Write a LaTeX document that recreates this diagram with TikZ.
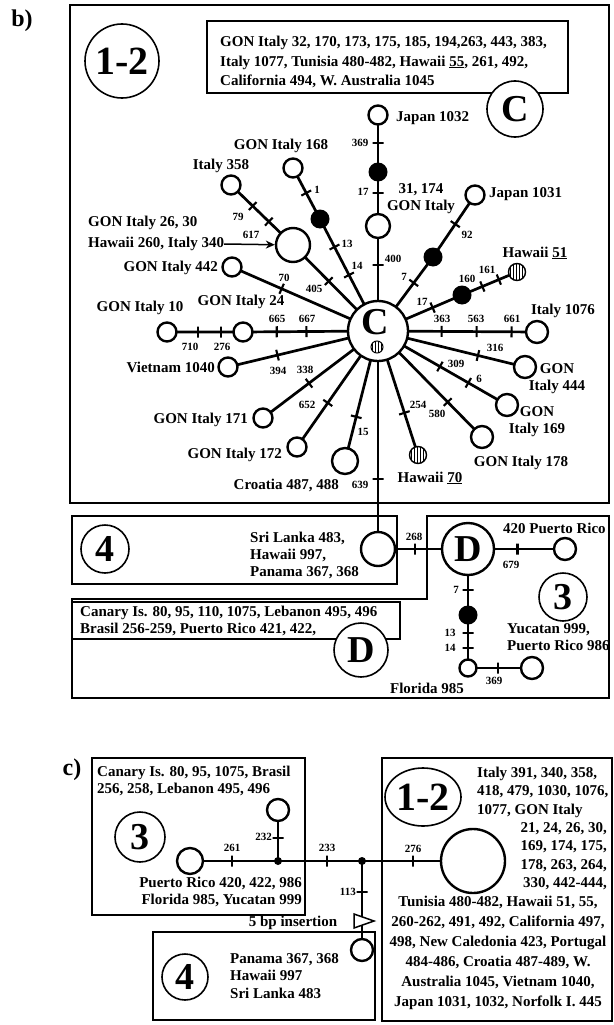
\documentclass[tikz,border=0pt]{standalone}
\usepackage{fontspec}
\setmainfont{Liberation Serif}
\usetikzlibrary{arrows.meta,patterns,shapes.geometric,backgrounds}

\begin{document}
\begin{tikzpicture}[x=1pt,y=-1pt,
  lab/.style={font=\bfseries\fontsize{15}{17}\selectfont,inner sep=0pt},
  num/.style={font=\bfseries\fontsize{11}{12}\selectfont,inner sep=0pt},
  grp/.style={circle,draw,line width=1.6pt,fill=white,inner sep=0pt,font=\bfseries\fontsize{38}{38}\selectfont},
  hap/.style={circle,draw,line width=2.4pt,fill=white,inner sep=0pt,minimum size=#1},
  hap/.default=19pt,
  blk/.style={circle,fill=black,inner sep=0pt,minimum size=19pt},
  hat/.style={circle,draw,line width=1.4pt,preaction={fill=white},pattern=vertical lines,inner sep=0pt,minimum size=17pt},
  jn/.style={circle,fill=black,inner sep=0pt,minimum size=8pt},
  tk/.style={draw,line width=2.1pt,inner sep=0pt,minimum width=0pt,minimum height=11pt,sloped},
  br/.style={line width=2.7pt},
  frame/.style={line width=1.3pt}]
\useasboundingbox (0,0) rectangle (613,1025);

% b)
\node[font=\bfseries\fontsize{24}{24}\selectfont] (tb) at (22,21) {b)};
\draw[frame] (70,5) rectangle (609,503);
\draw[frame] (207,21) rectangle (568,93);
\draw[frame] (72,516) rectangle (397,584);
\draw[frame] (72,599) -- (427,599) -- (427,516) -- (609,516) -- (609,698) -- (72,698) -- cycle;
\draw[frame] (72,602) rectangle (400,639);
\node[grp,minimum size=74pt,font=\bfseries\fontsize{40}{40}\selectfont] (g12) at (122,61) {1-2};
\node[lab,anchor=west,align=left,font=\bfseries\fontsize{15}{19.5}\selectfont] (tC) at (220,62) {GON Italy 32, 170, 173, 175, 185, 194,263, 443, 383,\\Italy 1077, Tunisia 480-482, Hawaii \underline{55}, 261, 492,\\California 494, W. Australia 1045};
\node[grp,minimum size=56pt] (gC) at (515,109) {C};

\node[hap=60pt] (C) at (378,331) {};
\node[font=\bfseries\fontsize{38}{38}\selectfont,inner sep=0pt] (tCc) at (375,322) {C};
\node[hat,minimum size=12pt,line width=1pt] (hC) at (377,347) {};
\node[hap=24pt] (n31) at (378,226) {};
\node[blk] (b1032) at (378,172) {};
\node[hap] (n1032) at (378,115) {};
\node[blk] (b168) at (320,219) {};
\node[hap] (n168) at (293,168) {};
\node[hap=34pt] (nBig) at (293,245) {};
\node[hap] (n358) at (231,185) {};
\node[hap] (n442) at (232,267) {};
\node[hap] (n24) at (243,332) {};
\node[hap] (n10) at (167,332) {};
\node[hap] (n1040) at (228,367) {};
\node[hap] (n171) at (263,418) {};
\node[hap] (n172) at (297,447) {};
\node[hap=26pt] (nCro) at (345,461) {};
\node[hap=34pt] (n4) at (378,549) {};
\node[hat] (h70) at (418,455) {};
\node[hap=22pt] (n178) at (482,437) {};
\node[hap=22pt] (n169) at (507,405) {};
\node[hap=22pt] (n444) at (525,367) {};
\node[hap=22pt] (n1076) at (537,332) {};
\node[blk] (b51) at (462,295) {};
\node[hat] (h51) at (517,272) {};
\node[blk] (b1031) at (433,257) {};
\node[hap] (n1031) at (475,195) {};
\node[hap=52pt,font=\bfseries\fontsize{38}{38}\selectfont] (D) at (468,549) {D};
\node[hap=22pt] (n420) at (565,549) {};
\node[blk] (bD) at (468,615) {};
\node[hap=17pt] (n985) at (468,668) {};
\node[hap=22pt] (n986) at (532,668) {};
\node[grp,minimum size=48pt] (g4) at (105,549) {4};
\node[grp,minimum size=48pt] (g3) at (563,597) {3};
\node[grp,minimum size=54pt] (gD) at (361,650) {D};

\node[lab] (l168) at (281,146) {GON Italy 168};
\node[lab] (l358) at (221,166) {Italy 358};
\node[lab,anchor=west] (l26) at (88,223) {GON Italy 26, 30};
\node[lab,anchor=west] (l340) at (88,244) {Hawaii 260, Italy 340};
\node[lab,anchor=east] (l442) at (218,268) {GON Italy 442};
\node[lab] (l10) at (140,308) {GON Italy 10};
\node[lab] (l24) at (241,302) {GON Italy 24};
\node[lab,anchor=east] (l1040) at (215,367) {Vietnam 1040};
\node[lab,anchor=east] (l171) at (248,420) {GON Italy 171};
\node[lab,anchor=east] (l172) at (282,455) {GON Italy 172};
\node[lab,anchor=east] (lCro) at (339,485) {Croatia 487, 488};
\node[lab] (l70) at (430,478) {Hawaii \underline{70}};
\node[lab] (l178) at (521,463) {GON Italy 178};
\node[lab,align=center] (l169) at (537,422) {GON\\Italy 169};
\node[lab,align=center] (l444) at (557,379) {GON\\Italy 444};
\node[lab] (l1076) at (563,311) {Italy 1076};
\node[lab] (l51) at (535,253) {Hawaii \underline{51}};
\node[lab,anchor=west] (l1031) at (489,194) {Japan 1031};
\node[lab,anchor=west] (l1032) at (396,118) {Japan 1032};
\node[lab,align=center] (l31) at (421,199) {31, 174\\GON Italy};
\node[lab,anchor=west,align=left] (l4) at (250,555) {Sri Lanka 483,\\Hawaii 997,\\Panama 367, 368};
\node[lab,anchor=west,align=left] (lD) at (80,621) {Canary Is. 80, 95, 110, 1075, Lebanon 495, 496\\Brasil 256-259, Puerto Rico 421, 422,};
\node[lab,anchor=west] (l420) at (503,528) {420 Puerto Rico};
\node[lab,anchor=west,align=left] (l986) at (507,637) {Yucatan 999,\\Puerto Rico 986};
\node[lab] (l985) at (427,688) {Florida 985};

\draw[-{Stealth[length=9pt,width=8pt]},line width=1.5pt] (l340.east) -- (nBig);

\node[num] at (393,259) {400};
\node[num] at (363,192) {17};
\node[num] at (360,143) {369};
\node[num] at (317,190) {1};
\node[num] at (347,244) {13};
\node[num] at (357,266) {14};
\node[num] at (238,217) {79};
\node[num] at (251,235) {617};
\node[num] at (314,289) {405};
\node[num] at (284,278) {70};
\node[num] at (277,319) {665};
\node[num] at (307,319) {667};
\node[num] at (190,347) {710};
\node[num] at (222,347) {276};
\node[num] at (278,371) {394};
\node[num] at (305,370) {338};
\node[num] at (307,405) {652};
\node[num] at (363,432) {15};
\node[num] at (360,485) {639};
\node[num] at (418,405) {254};
\node[num] at (437,414) {580};
\node[num] at (456,364) {309};
\node[num] at (479,379) {6};
\node[num] at (495,348) {316};
\node[num] at (442,319) {363};
\node[num] at (476,319) {563};
\node[num] at (512,319) {661};
\node[num] at (422,302) {17};
\node[num] at (467,279) {160};
\node[num] at (487,270) {161};
\node[num] at (404,277) {7};
\node[num] at (467,235) {92};
\node[num] at (414,537) {268};
\node[num] at (511,565) {679};
\node[num] at (456,590) {7};
\node[num] at (450,633) {13};
\node[num] at (450,648) {14};
\node[num] at (494,681) {369};

% c)
\node[font=\bfseries\fontsize{24}{24}\selectfont] (tc) at (72,770) {c)};
\draw[frame] (92,758) rectangle (305,915);
\draw[frame] (153,932) rectangle (375,1020);
\draw[frame] (382,758) rectangle (612,1021);
\node[grp,minimum size=50pt] (g3c) at (140,837) {3};
\node[grp,minimum size=46pt] (g4c) at (185,977) {4};
\node[ellipse,draw,line width=1.6pt,minimum width=76pt,minimum height=58pt,inner sep=0pt,font=\bfseries\fontsize{40}{40}\selectfont] (g12c) at (423,797) {1-2};
\node[hap=26pt] (n3c) at (190,861) {};
\node[jn] (j1) at (278,861) {};
\node[hap=22pt] (nTop) at (278,810) {};
\node[jn] (j2) at (362,861) {};
\node[hap=64pt] (big12) at (473,861) {};
\node[hap=22pt] (n4c) at (362,950) {};
\draw[fill=white,line width=1.5pt] (354,914) -- (354,928) -- (374,921) -- cycle;

\node[lab,anchor=west,align=left] (l3c) at (97,781) {Canary Is. 80, 95, 1075, Brasil\\256, 258, Lebanon 495, 496};
\node[lab,anchor=east,align=right] (l3d) at (302,892) {Puerto Rico 420, 422, 986\\Florida 985, Yucatan 999};
\node[lab] (lins) at (293,923) {5 bp insertion};
\node[lab,anchor=west,align=left,font=\bfseries\fontsize{15}{17.5}\selectfont] (l4c) at (230,976) {Panama 367, 368\\Hawaii 997\\Sri Lanka 483};
\node[lab,anchor=west,align=left,font=\bfseries\fontsize{15}{18.5}\selectfont] (l12a) at (477,792) {Italy 391, 340, 358,\\418, 479, 1030, 1076,\\1077, GON Italy};
\node[lab,anchor=east,align=right,font=\bfseries\fontsize{15}{18.5}\selectfont] (l12b) at (607,856) {21, 24, 26, 30,\\169, 174, 175,\\178, 263, 264,\\330, 442-444,};
\node[lab,align=center,font=\bfseries\fontsize{15}{20}\selectfont] (l12c) at (498,953) {Tunisia 480-482, Hawaii 51, 55,\\260-262, 491, 492, California 497,\\498, New Caledonia 423, Portugal\\484-486, Croatia 487-489, W.\\Australia 1045, Vietnam 1040,\\Japan 1031, 1032, Norfolk I. 445};
\node[num] at (232,848) {261};
\node[num] at (327,848) {233};
\node[num,anchor=east] at (272,837) {232};
\node[num,anchor=east] at (356,892) {113};
\node[num] at (413,849) {276};

\begin{scope}[on background layer]
\draw[br] (C.center) -- node[tk,pos=.63]{} (n31.center) -- node[tk,pos=.61]{} (b1032.center) -- node[tk,pos=.51]{} (n1032.center);
\draw[br] (C.center) -- node[tk,pos=.50]{} node[tk,pos=.75]{} (b168.center) -- node[tk,pos=.51]{} (n168.center);
\draw[br] (C.center) -- node[tk,pos=.58]{} (nBig.center) -- node[tk,pos=.39]{} node[tk,pos=.65]{} (n358.center);
\draw[br] (C.center) -- node[tk,pos=.66]{} (n442.center);
\draw[br] (C.center) -- node[tk,pos=.53]{} node[tk,pos=.75]{} (n24.center) -- node[tk,pos=.29]{} node[tk,pos=.59]{} (n10.center);
\draw[br] (C.center) -- node[tk,pos=.67]{} (n1040.center);
\draw[br] (C.center) -- node[tk,pos=.60]{} (n171.center);
\draw[br] (C.center) -- node[tk,pos=.62]{} (n172.center);
\draw[br] (C.center) -- node[tk,pos=.66]{} (nCro.center);
\draw[br] (C.center) -- node[tk,pos=.68]{} (n4.center);
\draw[br] (C.center) -- node[tk,pos=.66]{} (h70.center);
\draw[br] (C.center) -- node[tk,pos=.67]{} (n178.center);
\draw[br] (C.center) -- node[tk,pos=.48]{} node[tk,pos=.70]{} (n169.center);
\draw[br] (C.center) -- node[tk,pos=.68]{} (n444.center);
\draw[br] (C.center) -- node[tk,pos=.40]{} node[tk,pos=.62]{} node[tk,pos=.84]{} (n1076.center);
\draw[br] (C.center) -- node[tk,pos=.65]{} (b51.center) -- node[tk,pos=.37]{} node[tk,pos=.67]{} (h51.center);
\draw[br] (C.center) -- node[tk,pos=.65]{} (b1031.center) -- node[tk,pos=.53]{} (n1031.center);
\draw[br] (n4.center) -- node[tk,pos=.41]{} (D.center) -- node[tk,pos=.51]{} (n420.center);
\draw[br] (D.center) -- node[tk,pos=.62]{} (bD.center) -- node[tk,pos=.34]{} node[tk,pos=.62]{} (n985.center) -- node[tk,pos=.47]{} (n986.center);
\draw[br] (n3c.center) -- node[tk,pos=.48]{} (j1.center) -- node[tk,pos=.58]{} (j2.center) -- node[tk,pos=.46]{} (big12.center);
\draw[br] (j1.center) -- node[tk,pos=.45]{} (nTop.center);
\draw[br] (j2.center) -- node[tk,pos=.35]{} (n4c.center);
\end{scope}
\end{tikzpicture}
\end{document}
